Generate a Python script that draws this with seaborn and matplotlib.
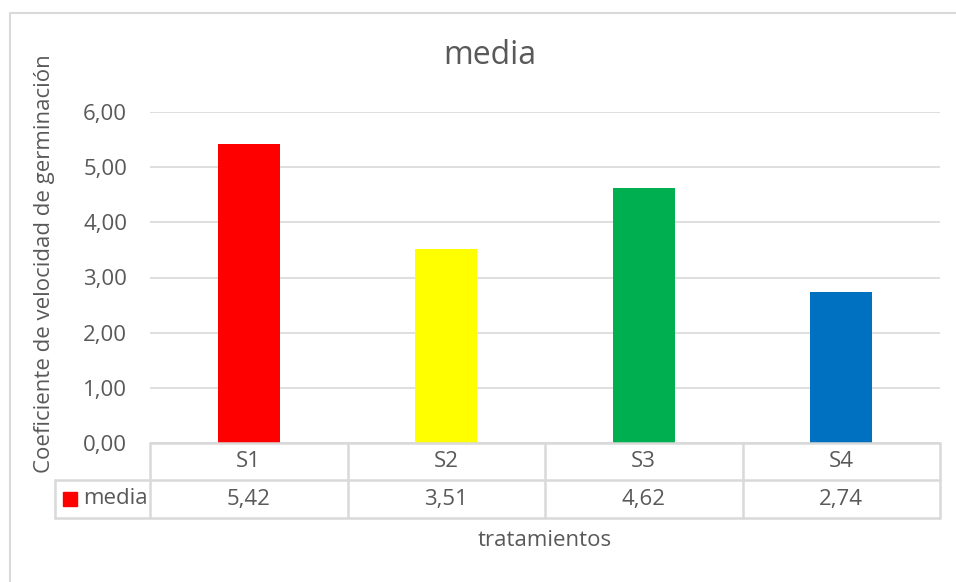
import matplotlib
matplotlib.use("Agg")
import matplotlib.pyplot as plt
from matplotlib.lines import Line2D
from matplotlib.patches import Rectangle
import seaborn as sns
import pandas as pd

categories = ["S1", "S2", "S3", "S4"]
values = [5.42, 3.51, 4.62, 2.74]
value_labels = ["5,42", "3,51", "4,62", "2,74"]
colors = ["#FF0000", "#FFFF00", "#00B050", "#0070C0"]
yticks = [0, 1, 2, 3, 4, 5, 6]
series_name = "media"
title = "media"
ylabel = "Coeficiente de velocidad de germinación"
xlabel = "tratamientos"

sns.set_theme(style="white")
plt.rcParams['font.family'] = ['Open Sans', 'DejaVu Sans']
TXT = "#595959"
GRID = "#D9D9D9"
FS = 16

W, H = 956, 582
fig = plt.figure(figsize=(W / 100, H / 100), dpi=100)

# plot area in pixels
x0, x1 = 150, 940
ytop, ybot = 112, 443
ax = fig.add_axes([x0 / W, 1 - ybot / H, (x1 - x0) / W, (ybot - ytop) / H])

df = pd.DataFrame({"cat": categories, "val": values})
sns.barplot(data=df, x="cat", y="val", hue="cat", palette=colors,
            width=0.315, legend=False, ax=ax, saturation=1, edgecolor="none")
ax.set_xlim(-0.5, len(categories) - 0.5)
ax.set_ylim(0, 6)
ax.set_yticks(yticks)
ax.set_yticklabels([f"{v:.2f}".replace(".", ",") for v in yticks], fontsize=FS, color=TXT)
ax.tick_params(axis="y", length=0, pad=16.5)
ax.set_xticks([])
ax.set_xlabel("")
ax.set_ylabel("")
for s in ax.spines.values():
    s.set_visible(False)
ax.yaxis.grid(True, color=GRID, linewidth=1.2)
ax.set_axisbelow(True)

# data table below the axis
px = lambda x: x / W
py = lambda y: 1 - y / H
r0, r1, r2 = 443, 480, 518
lw = 1.8
lines = []
lines.append(((x0, r0), (x1, r0)))
lines.append(((55, r1), (x1, r1)))
lines.append(((55, r2), (x1, r2)))
lines.append(((55, r1), (55, r2)))
colw = (x1 - x0) / len(categories)
for i in range(len(categories) + 1):
    xx = x0 + i * colw
    lines.append(((xx, r0), (xx, r2)))
for (a, b) in lines:
    fig.add_artist(Line2D([px(a[0]), px(b[0])], [py(a[1]), py(b[1])],
                          color=GRID, linewidth=lw, transform=fig.transFigure))

for i, (c, v) in enumerate(zip(categories, value_labels)):
    cx = x0 + (i + 0.5) * colw
    fig.text(px(cx), py((r0 + r1) / 2), c, ha="center", va="center", fontsize=FS, color=TXT)
    fig.text(px(cx), py((r1 + r2) / 2), v, ha="center", va="center", fontsize=FS, color=TXT)

# legend key in table
fig.add_artist(Rectangle((px(63), py(506)), 14 / W, 14 / H, color=colors[0],
                         transform=fig.transFigure))
fig.text(px(83), py((r1 + r2) / 2), series_name, ha="left", va="center", fontsize=FS, color=TXT)

# title and axis labels
fig.text(px(490), py(56), title, ha="center", va="center", fontsize=23, color=TXT)
fig.text(px(45), py(264), ylabel, ha="center", va="center", rotation=90, fontsize=FS, color=TXT)
fig.text(px(545), py(541), xlabel, ha="center", va="center", fontsize=FS, color=TXT)

# chart border (left and top)
fig.add_artist(Line2D([px(10), px(10), px(W)], [py(H), py(12.5), py(12.5)],
                      color=GRID, linewidth=1.5, transform=fig.transFigure))

fig.savefig("out.png", dpi=100, facecolor="white")
